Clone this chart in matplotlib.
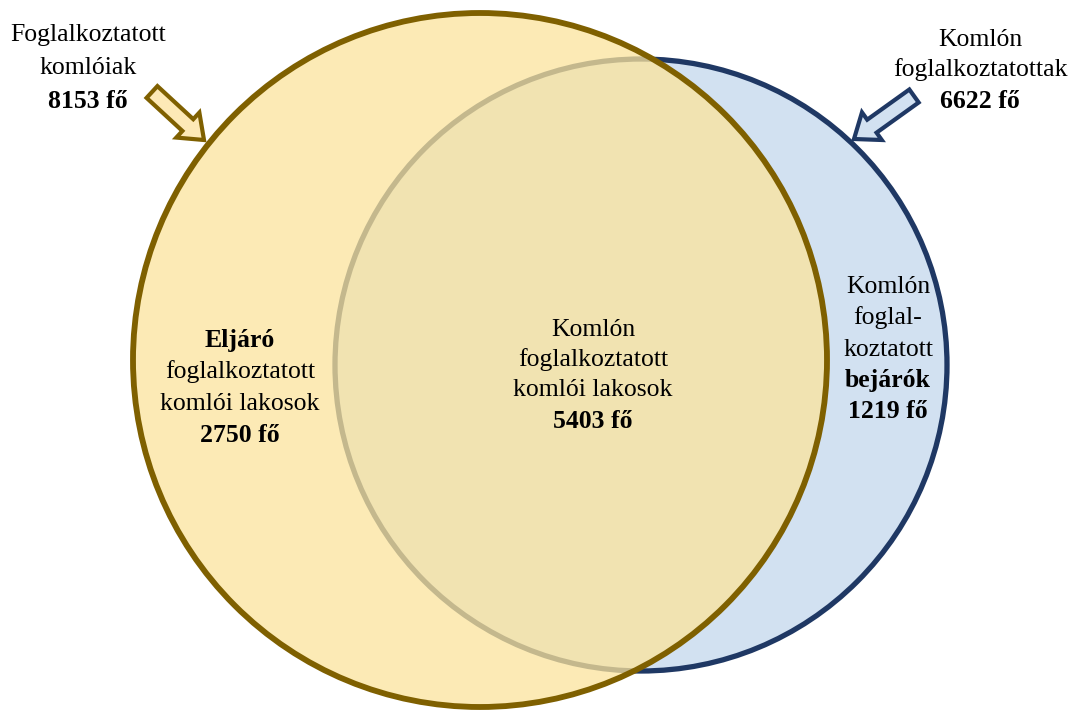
import matplotlib
matplotlib.use("Agg")
import matplotlib.pyplot as plt
from matplotlib.patches import Ellipse, FancyArrow

# ---- data ----
set_names = ["Foglalkoztatott komlóiak", "Komlón foglalkoztatottak"]
set_totals = [8153, 6622]
region_values = {"left_only": 2750, "both": 5403, "right_only": 1219}
unit = "fő"

# ---- style ----
gold_edge = "#7f6000"
gold_fill = "#fce49c"
blue_edge = "#1f3864"
blue_fill = "#d2e1f1"
font = ["Liberation Serif", "DejaVu Serif"]
fs = 18.5

W, H = 1072, 713
fig = plt.figure(figsize=(W / 100, H / 100), dpi=100)
ax = fig.add_axes([0, 0, 1, 1])
ax.set_xlim(0, W)
ax.set_ylim(H, 0)
ax.set_aspect("equal")
ax.axis("off")

# layout of circles (pixel coordinates of the canvas)
gold_c, gold_r = (480, 360), 347
blue_c, blue_r = (641, 365), 306

# blue circle (underneath)
ax.add_patch(Ellipse(blue_c, 2 * blue_r, 2 * blue_r, facecolor=blue_fill,
                     edgecolor=blue_edge, lw=3.8, zorder=1))
# gold circle fill semi-transparent
ax.add_patch(Ellipse(gold_c, 2 * gold_r, 2 * gold_r, facecolor=gold_fill,
                     edgecolor="none", alpha=0.75, zorder=2))
# gold circle outline opaque
ax.add_patch(Ellipse(gold_c, 2 * gold_r, 2 * gold_r, facecolor="none",
                     edgecolor=gold_edge, lw=4.2, zorder=3))

# arrows
ax.add_patch(FancyArrow(152, 92, 52, 48, width=16, head_width=34, head_length=22,
                        length_includes_head=True, facecolor="#fde9b6",
                        edgecolor=gold_edge, lw=3, zorder=4))
ax.add_patch(FancyArrow(914, 96, -60, 43, width=16, head_width=34, head_length=22,
                        length_includes_head=True, facecolor=blue_fill,
                        edgecolor=blue_edge, lw=3, zorder=4))


def lines(x, ys, items):
    for y, (txt, bold) in zip(ys, items):
        ax.text(x, y, txt, ha="center", va="center", fontsize=fs,
                family=font, fontweight="bold" if bold else "normal", zorder=5)


def fmt(v):
    return f"{v} {unit}"


# top-left label
lines(88, [35, 68, 101], [("Foglalkoztatott", False), ("komlóiak", False),
                          (fmt(set_totals[0]), True)])
# top-right label
lines(980, [40, 70, 101], [("Komlón", False), ("foglalkoztatottak", False),
                           (fmt(set_totals[1]), True)])
# left-only region
lines(240, [340, 372, 404, 436], [("Eljáró", True), ("foglalkoztatott", False),
                                  ("komlói lakosok", False),
                                  (fmt(region_values["left_only"]), True)])
# intersection
lines(593, [330, 360, 390, 421], [("Komlón", False), ("foglalkoztatott", False),
                                  ("komlói lakosok", False),
                                  (fmt(region_values["both"]), True)])
# right-only region
lines(888, [287, 318, 350, 381, 412], [("Komlón", False), ("foglal-", False),
                                       ("koztatott", False), ("bejárók", True),
                                       (fmt(region_values["right_only"]), True)])

fig.savefig("out.png", dpi=100, facecolor="white")
